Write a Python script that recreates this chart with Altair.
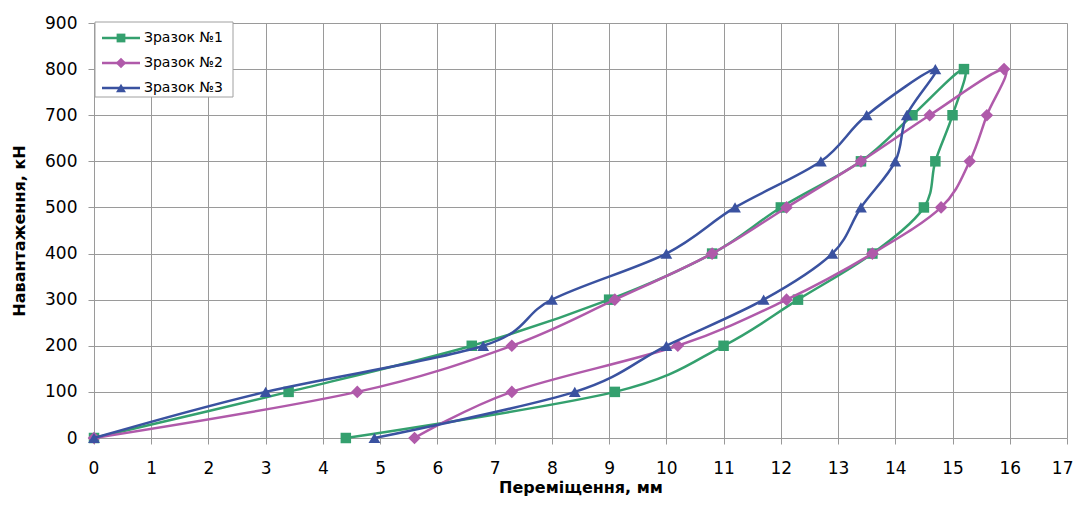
import altair as alt
import pandas as pd

# ---- data ----
series_names = ["Зразок №1", "Зразок №2", "Зразок №3"]
series_colors = ["#34a06e", "#b05aaa", "#3a52a0"]
series_shapes = ["square", "diamond", "triangle-up"]
series_sizes = [110, 160, 140]

# load (kN): loading 0 -> 800, then unloading back to 0
load_kn = [0, 100, 200, 300, 400, 500, 600, 700, 800, 700, 600, 500, 400, 300, 200, 100, 0]

# displacement (mm) for each sample
disp_1 = [0, 3.4, 6.6, 9.0, 10.8, 12.0, 13.4, 14.3, 15.2, 15.0, 14.7, 14.5, 13.6, 12.3, 11.0, 9.1, 4.4]
disp_2 = [0, 4.6, 7.3, 9.1, 10.8, 12.1, 13.4, 14.6, 15.9, 15.6, 15.3, 14.8, 13.6, 12.1, 10.2, 7.3, 5.6]
disp_3 = [0, 3.0, 6.8, 8.0, 10.0, 11.2, 12.7, 13.5, 14.7, 14.2, 14.0, 13.4, 12.9, 11.7, 10.0, 8.4, 4.9]

x_ticks = list(range(0, 18))
y_ticks = list(range(0, 1000, 100))

FONT = "DejaVu Sans"

rows = []
for name, xs in zip(series_names, [disp_1, disp_2, disp_3]):
    for i, (xv, yv) in enumerate(zip(xs, load_kn)):
        rows.append({"series": name, "step": i, "x": xv, "y": yv})
df = pd.DataFrame(rows)

x_scale = alt.Scale(domain=[0, 17], nice=False, zero=False)
y_scale = alt.Scale(domain=[0, 900], nice=False)

common_axis = dict(
    titleFontSize=16,
    titleFontWeight="bold",
    titleFont=FONT,
    titleColor="#000000",
    labelFontSize=17,
    labelFont=FONT,
    labelColor="#000000",
    labelOverlap=False,
    tickSize=6,
    tickColor="#999999",
    grid=True,
    gridColor="#9a9a9a",
    gridWidth=1,
    domain=False,
)

x_enc = alt.X(
    "x:Q",
    scale=x_scale,
    axis=alt.Axis(
        values=x_ticks,
        title="Переміщення, мм",
        titleBaseline="alphabetic",
        titleY=54,
        labelPadding=16,
        labelFlush=True,
        labelFlushOffset=6,
        **common_axis,
    ),
)
y_enc = alt.Y(
    "y:Q",
    scale=y_scale,
    axis=alt.Axis(
        values=y_ticks,
        title="Навантаження, кН",
        titleBaseline="middle",
        titleX=-75,
        labelPadding=11,
        labelFlush=False,
        **common_axis,
    ),
)

base = alt.Chart(df)
layers = []
for name, col, shp, sz in zip(series_names, series_colors, series_shapes, series_sizes):
    sub = base.transform_filter(alt.datum.series == name)
    line = sub.mark_line(interpolate="cardinal", tension=0, strokeWidth=2.5, color=col).encode(
        x=x_enc, y=y_enc, order="step:Q"
    )
    pts = sub.mark_point(shape=shp, filled=True, opacity=1, size=sz, color=col).encode(
        x=x_enc, y=y_enc
    )
    layers += [line, pts]

# ---- legend box (inside plot, top-left) ----
box = alt.Chart(pd.DataFrame({"k": [0]})).mark_rect(
    fill="white", stroke="#a0a0a0", strokeWidth=1
).encode(x=alt.value(1), x2=alt.value(139), y=alt.value(-1), y2=alt.value(74))
layers.append(box)

legend_y = [15, 40, 65]
for name, col, shp, sz, ly in zip(series_names, series_colors, series_shapes, series_sizes, legend_y):
    ldf = pd.DataFrame({"series": [name]})
    r = alt.Chart(ldf).mark_rule(color=col, strokeWidth=2.5).encode(
        x=alt.value(8), x2=alt.value(46), y=alt.value(ly)
    )
    p = alt.Chart(ldf).mark_point(shape=shp, filled=True, opacity=1, size=sz * 0.7, color=col).encode(
        x=alt.value(27), y=alt.value(ly)
    )
    t = alt.Chart(ldf).mark_text(
        align="left", baseline="middle", fontSize=14, font=FONT, color="#000000"
    ).encode(x=alt.value(50), y=alt.value(ly), text="series:N")
    layers += [r, p, t]

chart = alt.layer(*layers).properties(
    width=973,
    height=415,
    padding={"left": 86, "top": 15, "right": 6, "bottom": 58},
    autosize=alt.AutoSizeParams(type="none"),
).configure_view(stroke=None).configure(background="white")

chart.save("out.html", embed_options={"renderer": "svg", "actions": False})
